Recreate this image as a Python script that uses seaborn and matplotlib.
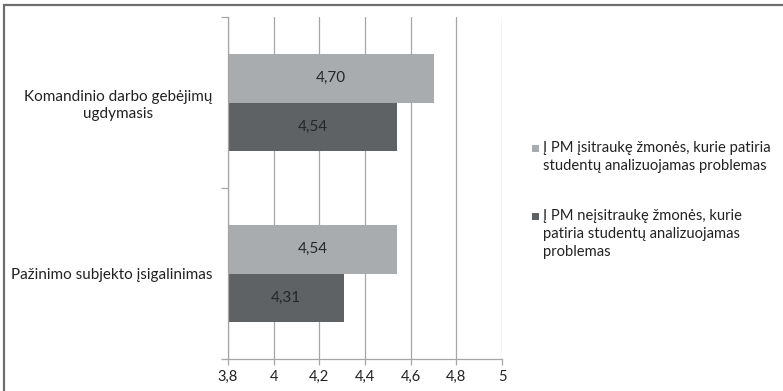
import matplotlib
matplotlib.use("Agg")
import matplotlib.pyplot as plt
import seaborn as sns
import pandas as pd
from matplotlib.patches import Rectangle

categories = ["Komandinio darbo gebėjimų\nugdymasis", "Pažinimo subjekto įsigalinimas"]
series_names = [
    "Į PM įsitraukę žmonės, kurie patiria\nstudentų analizuojamas problemas",
    "Į PM neįsitraukę žmonės, kurie\npatiria studentų analizuojamas\nproblemas",
]
involved = [4.70, 4.54]
not_involved = [4.54, 4.31]
x_ticks = [3.8, 4.0, 4.2, 4.4, 4.6, 4.8, 5.0]
x_tick_labels = ["3,8", "4", "4,2", "4,4", "4,6", "4,8", "5"]

colors = ["#A9ACAF", "#5E6265"]

df = pd.DataFrame({
    "kategorija": categories * 2,
    "reiksme": involved + not_involved,
    "grupe": [series_names[0]] * 2 + [series_names[1]] * 2,
})

sns.set_theme(style="white")
plt.rcParams["font.family"] = ["Lato", "DejaVu Sans"]

W, H = 783, 391
fig = plt.figure(figsize=(W / 100, H / 100), dpi=100)
ax = fig.add_axes([228 / W, 1 - 359 / H, (502 - 228) / W, (359 - 17) / H])

sns.barplot(data=df, y="kategorija", x="reiksme", hue="grupe", orient="h",
            palette=colors, width=0.57, ax=ax, legend=False, saturation=1,
            edgecolor="none", linewidth=0)

ax.set_xlim(3.8, 5.0)
ax.set_ylim(1.5, -0.5)
ax.set_xticks(x_ticks)
ax.set_xticklabels(x_tick_labels, fontsize=10.5, color="#222222")
ax.set_xlabel("")
ax.set_ylabel("")

# vertical gridlines behind bars
ax.set_axisbelow(True)
ax.xaxis.grid(True, color="#A6A6A6", linewidth=0.9)
ax.yaxis.grid(False)

for side in ["top", "right"]:
    ax.spines[side].set_visible(False)
for side in ["left", "bottom"]:
    ax.spines[side].set_color("#A6A6A6")
    ax.spines[side].set_linewidth(0.9)

ax.tick_params(axis="x", which="major", bottom=True, length=4, color="#A6A6A6",
               width=0.9, pad=4)
ax.set_yticks([0, 1])
ax.set_yticklabels(categories, fontsize=11, color="#222222", ha="right",
                   multialignment="center", linespacing=1.25)
ax.tick_params(axis="y", which="major", left=False, pad=5.5)
ax.set_yticks([-0.5, 0.5, 1.5], minor=True)
ax.tick_params(axis="y", which="minor", left=True, length=5, color="#A6A6A6", width=0.9)

# value labels centred on the visible part of each bar
for container in ax.containers:
    for bar in container:
        v = bar.get_width()
        yc = bar.get_y() + bar.get_height() / 2
        ax.text((3.8 + v) / 2, yc, f"{v:.2f}".replace(".", ","),
                ha="center", va="center", fontsize=11, color="#262626")

# legend: square marker beside the first line of each entry, 18 px per line;
# font size chosen so the longest line spans about 226 px
renderer = fig.canvas.get_renderer()
probe = fig.text(0, 0, series_names[0].split("\n")[0], fontsize=11)
probe_w = probe.get_window_extent(renderer).width
probe.remove()
legend_size = 11 * 226 / probe_w

legend_rows = [148, 216]
line_step = 18
for name, color, ypx in zip(series_names, colors, legend_rows):
    fig.patches.append(Rectangle((532 / W, 1 - (ypx + 4) / H), 7 / W, 7 / H,
                                 transform=fig.transFigure, facecolor=color,
                                 edgecolor="none"))
    for i, line in enumerate(name.split("\n")):
        fig.text(543 / W, 1 - (ypx + i * line_step) / H, line, ha="left",
                 va="center", fontsize=legend_size, color="#222222")

# outer chart frame
fig.patches.append(Rectangle((4 / W, -0.05), 1.2, 1 - 5 / H + 0.05,
                             transform=fig.transFigure, fill=False,
                             edgecolor="#6E6E6E", linewidth=1.6))

fig.savefig("out.png", dpi=100)
